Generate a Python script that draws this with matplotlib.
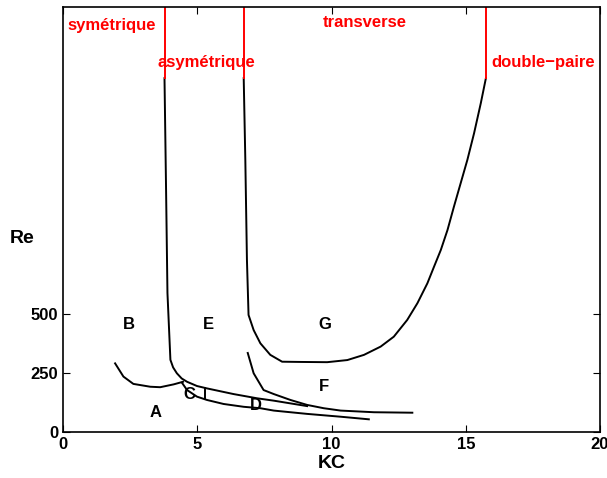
import matplotlib
matplotlib.use('Agg')
import matplotlib.pyplot as plt

plt.rcParams['font.family'] = ['Liberation Sans', 'DejaVu Sans']
plt.rcParams['font.weight'] = 'bold'

# boundary symetrique / asymetrique, then top of band C
sym_kc = [3.78, 3.84, 3.89, 4.00, 4.10, 4.24, 4.42, 4.62, 4.99, 5.36, 6.35, 7.23, 7.85, 9.09]
sym_re = [1500, 1014, 590, 307, 275, 250, 228, 214, 196, 186, 162, 144, 134, 111]

# boundary asymetrique / transverse / double-paire (region G)
g_kc = [6.73, 6.79, 6.85, 6.91, 7.10, 7.35, 7.72, 8.16, 8.84, 9.84, 10.59,
        11.21, 11.83, 12.32, 12.82, 13.20, 13.57, 13.82, 14.07, 14.32,
        14.56, 14.81, 15.06, 15.31, 15.56, 15.75]
g_re = [1500, 1154, 731, 497, 433, 377, 328, 299, 298, 297, 306,
        328, 363, 405, 476, 547, 631, 702, 772, 857,
        956, 1055, 1154, 1267, 1394, 1500]

# boundary E / F
f_kc = [6.88, 7.10, 7.47, 7.85, 8.47, 9.09, 9.71, 10.34, 11.58, 13.01]
f_re = [336, 250, 179, 162, 137, 116, 102, 92, 85, 83]

# lower boundary of C / D
cd_kc = [4.43, 4.62, 4.99, 5.36, 5.98, 6.73, 7.35, 7.85, 9.09, 10.34, 11.39]
cd_re = [210, 179, 151, 137, 120, 108, 102, 92, 78, 66, 55]

# boundary A / B
ab_kc = [1.94, 2.25, 2.62, 3.25, 3.62, 4.12, 4.47]
ab_re = [292, 236, 205, 193, 191, 203, 214]

# small separator inside band C
sep_kc = [5.30, 5.30]
sep_re = [139, 188]

# red regime boundaries above the curves
red_kc = [3.78, 6.73, 15.75]
red_re = [1500, 1800]

regions = ['A', 'B', 'C', 'D', 'E', 'F', 'G']
region_kc = [3.43, 2.46, 4.70, 7.20, 5.41, 9.70, 9.74]
region_re = [82, 458, 162, 112, 458, 192, 458]

regimes = ['symétrique', 'asymétrique', 'transverse', 'double−paire']
regime_kc = [1.83, 5.34, 11.23, 17.87]
regime_re = [1721, 1565, 1734, 1565]

fig = plt.figure(figsize=(6.07, 4.78), dpi=100)
ax = fig.add_axes([0.1038, 0.0956, 0.8847, 0.8891])

lw = 1.4
for xs, ys in [(sym_kc, sym_re), (g_kc, g_re), (f_kc, f_re),
               (cd_kc, cd_re), (ab_kc, ab_re), (sep_kc, sep_re)]:
    ax.plot(xs, ys, color='black', lw=lw, solid_joinstyle='round')
for x in red_kc:
    ax.plot([x, x], red_re, color='red', lw=lw)

for lab, x, y in zip(regions, region_kc, region_re):
    ax.text(x, y, lab, ha='center', va='center', fontsize=12, fontweight='bold')
for lab, x, y in zip(regimes, regime_kc, regime_re):
    ax.text(x, y, lab, ha='center', va='center', fontsize=12,
            fontweight='bold', color='red')

ax.set_xlim(0, 20)
ax.set_ylim(0, 1800)
ax.set_xticks([0, 5, 10, 15, 20])
ax.set_yticks([0, 250, 500])
ax.tick_params(direction='in', top=True, right=True, labelsize=12, length=5)
for lbl in ax.get_xticklabels() + ax.get_yticklabels():
    lbl.set_fontweight('bold')
for s in ax.spines.values():
    s.set_linewidth(1.2)

ax.set_xlabel('KC', fontsize=14, fontweight='bold', labelpad=2)
ax.set_ylabel('Re', fontsize=14, fontweight='bold', rotation=0, ha='center', va='center')
ax.yaxis.set_label_coords(-0.076, 0.457)

fig.savefig('out.png', dpi=100)
